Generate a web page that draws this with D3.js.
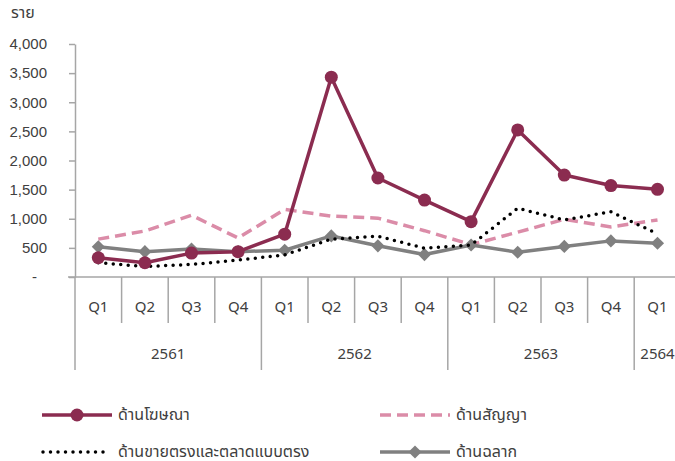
<!DOCTYPE html>
<html><head><meta charset="utf-8">
<script src="https://cdn.jsdelivr.net/npm/d3@7"></script>
<style>
body{margin:0;background:#fff;}
svg{display:block;font-family:"Noto Sans","Noto Sans Thai",Tahoma,sans-serif;}
</style></head>
<body><svg id="c" width="675" height="461"></svg>
<script>
const quarters = ["Q1","Q2","Q3","Q4","Q1","Q2","Q3","Q4","Q1","Q2","Q3","Q4","Q1"];
const years = [{label:"2561",start:0,span:4},{label:"2562",start:4,span:4},{label:"2563",start:8,span:4},{label:"2564",start:12,span:1}];
const advertising = [330,245,410,435,735,3430,1700,1320,950,2525,1750,1570,1505];
const contract = [650,790,1060,670,1160,1045,1010,795,555,770,990,860,980];
const directSales = [245,180,215,290,380,650,700,495,550,1180,980,1120,740];
const lottery = [520,435,480,435,460,705,535,385,550,425,525,620,580];
const yTicks = [0,500,1000,1500,2000,2500,3000,3500,4000];
const seriesNames = ["ด้านโฆษณา","ด้านสัญญา","ด้านขายตรงและตลาดแบบตรง","ด้านฉลาก"];
const yUnit = "ราย";

const svg = d3.select("#c");
const axisColor = "#a6a6a6";
const textColor = "#404040";
const idx = quarters.map((d,i)=>i);
const x = d3.scaleBand().domain(idx).range([75, 75 + 13*46.6]);
const y = d3.scaleLinear().domain([0,4000]).range([277,44]);
const cx = i => x(i) + x.bandwidth()/2;

// y axis
const ya = svg.append("g").attr("transform","translate(75,0)")
  .call(d3.axisLeft(y).tickValues(yTicks).tickSize(6).tickSizeOuter(0)
    .tickFormat(d => d===0 ? "-" : d3.format(",")(d)));
ya.select(".domain").attr("stroke",axisColor).attr("stroke-width",1.5);
ya.selectAll(".tick line").attr("stroke",axisColor).attr("stroke-width",1.5);
ya.selectAll(".tick text").attr("fill",textColor).attr("font-size",15).attr("x",-28)
  .style("font-family","inherit");
ya.selectAll(".tick text").filter(d=>d===0).attr("x",-38);

svg.append("text").attr("x",11).attr("y",18).attr("fill",textColor).attr("font-size",16).text(yUnit);

// x axis
svg.append("line").attr("x1",68).attr("x2",675).attr("y1",277).attr("y2",277)
  .attr("stroke",axisColor).attr("stroke-width",1.5);
const yearStarts = new Set(years.map(d=>d.start));
idx.forEach(i=>{
  if(i===0) return;
  const xx = x(i);
  svg.append("line").attr("x1",xx).attr("x2",xx).attr("y1",277)
    .attr("y2", yearStarts.has(i) ? 370 : 323)
    .attr("stroke",axisColor).attr("stroke-width",1.5);
});
svg.append("line").attr("x1",75).attr("x2",75).attr("y1",277).attr("y2",370)
  .attr("stroke",axisColor).attr("stroke-width",1.5);
svg.selectAll(".ql").data(quarters).join("text")
  .attr("x",(d,i)=>cx(i)).attr("y",312).attr("text-anchor","middle")
  .attr("fill",textColor).attr("font-size",15).text(d=>d);
svg.selectAll(".yl").data(years).join("text")
  .attr("x",d=> d.span===1 ? cx(d.start) : x(d.start) + d.span*x.bandwidth()/2)
  .attr("y",359).attr("text-anchor","middle")
  .attr("fill",textColor).attr("font-size",15).text(d=>d.label);

const line = d3.line().x((d,i)=>cx(i)).y(d=>y(d));
const colAdv = "#8b2c50", colCon = "#db8ca8", colDir = "#000", colLot = "#808080";

// series
svg.append("path").datum(contract).attr("d",line).attr("fill","none")
  .attr("stroke",colCon).attr("stroke-width",3.5).attr("stroke-dasharray","11,6");
svg.append("path").datum(lottery).attr("d",line).attr("fill","none")
  .attr("stroke",colLot).attr("stroke-width",3.5).attr("stroke-linejoin","round");
const diamond = d3.symbol().type(d3.symbolDiamond2).size(110);
svg.selectAll(".lm").data(lottery).join("path")
  .attr("transform",(d,i)=>`translate(${cx(i)},${y(d)})`).attr("d",diamond).attr("fill",colLot);
svg.append("path").datum(directSales).attr("d",line).attr("fill","none")
  .attr("stroke",colDir).attr("stroke-width",3.5).attr("stroke-linecap","round").attr("stroke-dasharray","0,7.5");
svg.append("path").datum(advertising).attr("d",line).attr("fill","none")
  .attr("stroke",colAdv).attr("stroke-width",3.5).attr("stroke-linejoin","round");
svg.selectAll(".am").data(advertising).join("circle")
  .attr("cx",(d,i)=>cx(i)).attr("cy",d=>y(d)).attr("r",6.5).attr("fill",colAdv);

// legend
const lg = svg.append("g");
function legendItem(x0,yy,name,kind){
  const g = lg.append("g");
  if(kind==="adv"){
    g.append("line").attr("x1",x0).attr("x2",x0+70).attr("y1",yy).attr("y2",yy).attr("stroke",colAdv).attr("stroke-width",3.5);
    g.append("circle").attr("cx",x0+35).attr("cy",yy).attr("r",6.5).attr("fill",colAdv);
  } else if(kind==="con"){
    g.append("line").attr("x1",x0).attr("x2",x0+70).attr("y1",yy).attr("y2",yy).attr("stroke",colCon).attr("stroke-width",3.5).attr("stroke-dasharray","11,6");
  } else if(kind==="dir"){
    g.append("line").attr("x1",x0+1).attr("x2",x0+66).attr("y1",yy).attr("y2",yy).attr("stroke",colDir).attr("stroke-width",3.5).attr("stroke-linecap","round").attr("stroke-dasharray","0,7.5");
  } else {
    g.append("line").attr("x1",x0).attr("x2",x0+70).attr("y1",yy).attr("y2",yy).attr("stroke",colLot).attr("stroke-width",3.5);
    g.append("path").attr("transform",`translate(${x0+35},${yy})`).attr("d",diamond).attr("fill",colLot);
  }
  g.append("text").attr("x",x0+76).attr("y",yy+5).attr("fill",textColor).attr("font-size",16).text(name);
}
legendItem(42,415,seriesNames[0],"adv");
legendItem(380,415,seriesNames[1],"con");
legendItem(42,452,seriesNames[2],"dir");
legendItem(380,452,seriesNames[3],"lot");
</script></body></html>
